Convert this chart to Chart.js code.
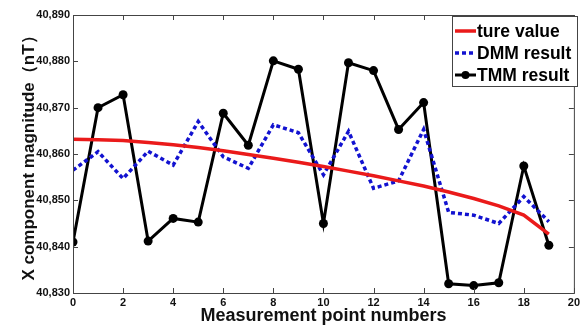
<!DOCTYPE html>
<html><head><meta charset="utf-8">
<script src="https://cdn.jsdelivr.net/npm/chart.js@4.4.0/dist/chart.umd.min.js"></script>
<style>html,body{margin:0;padding:0;background:#fff}#wrap{width:583px;height:329px}</style>
</head><body><div id="wrap"><canvas id="c" width="583" height="329"></canvas></div>
<script>
const xValues = [0,1,2,3,4,5,6,7,8,9,10,11,12,13,14,15,16,17,18,19];
const trueValues = [40863.2,40863.1,40862.9,40862.5,40862.0,40861.4,40860.7,40859.9,40859.1,40858.2,40857.3,40856.3,40855.3,40854.2,40853.1,40851.8,40850.4,40848.8,40846.8,40842.7];
const dmmValues = [40856.5,40860.5,40854.7,40860.6,40857.6,40867.0,40859.4,40856.9,40866.3,40864.6,40855.5,40864.9,40852.6,40854.2,40865.3,40847.4,40846.8,40845.0,40850.8,40845.4];
const tmmValues = [40841.0,40870.0,40872.8,40841.2,40846.1,40845.3,40868.8,40861.9,40880.1,40878.3,40845.0,40879.7,40878.0,40865.3,40871.1,40832.0,40831.6,40832.2,40857.4,40840.3];
const xTicks = [0,2,4,6,8,10,12,14,16,18,20];
const yTicks = [40830,40840,40850,40860,40870,40880,40890];
const seriesLabels = ['ture value','DMM result','TMM result'];
const xTitle = 'Measurement point numbers';
const yTitle = 'X component magnitude（nT）';

const FONT = '"Liberation Sans", Arial, sans-serif';
const toPts = arr => arr.map((v,i)=>({x:xValues[i], y:v}));

const boxTicks = {
  id:'boxTicks',
  afterDraw(chart){
    const {ctx, chartArea:a, scales:{x,y}} = chart;
    ctx.save();
    ctx.strokeStyle = '#444'; ctx.lineWidth = 1;
    ctx.strokeRect(a.left+0.5, a.top+0.5, a.right-a.left, a.bottom-a.top);
    ctx.beginPath();
    xTicks.forEach(v=>{const px=Math.round(x.getPixelForValue(v))+0.5;
      ctx.moveTo(px,a.bottom); ctx.lineTo(px,a.bottom-5);
      ctx.moveTo(px,a.top); ctx.lineTo(px,a.top+5);});
    yTicks.forEach(v=>{const py=Math.round(y.getPixelForValue(v))+0.5;
      ctx.moveTo(a.left,py); ctx.lineTo(a.left+5,py);
      ctx.moveTo(a.right,py); ctx.lineTo(a.right-5,py);});
    ctx.stroke();
    // legend
    const lx=452, ly=16, lw=125, lh=70;
    ctx.fillStyle='#fff'; ctx.fillRect(lx,ly,lw,lh);
    ctx.strokeStyle='#444'; ctx.strokeRect(lx+0.5,ly+0.5,lw,lh);
    ctx.font = 'bold 17.5px '+FONT; ctx.textBaseline='middle'; ctx.fillStyle='#000';
    chart.data.datasets.forEach((ds,i)=>{
      const cy = ly+15+i*22;
      ctx.save();
      ctx.strokeStyle=ds.borderColor; ctx.lineWidth=ds.borderWidth;
      ctx.setLineDash(ds.borderDash||[]);
      ctx.beginPath(); ctx.moveTo(455,cy); ctx.lineTo(476,cy); ctx.stroke();
      if(ds.pointRadius>0){ctx.setLineDash([]);ctx.fillStyle=ds.borderColor;ctx.beginPath();ctx.arc(465.5,cy,4,0,Math.PI*2);ctx.fill();}
      ctx.restore();
      ctx.fillText(ds.label, 477, cy+1);
    });
    ctx.restore();
  }
};

new Chart(document.getElementById('c'), {
  type:'line',
  data:{datasets:[
    {label:seriesLabels[0], data:toPts(trueValues), borderColor:'#ea1a1a', borderWidth:3.5, pointRadius:0, tension:0},
    {label:seriesLabels[1], data:toPts(dmmValues), borderColor:'#1212d0', borderWidth:3.5, borderDash:[4,3], pointRadius:0, tension:0},
    {label:seriesLabels[2], data:toPts(tmmValues), borderColor:'#000', backgroundColor:'#000', borderWidth:3, pointRadius:4.5, pointBackgroundColor:'#000', pointBorderWidth:0, tension:0}
  ]},
  options:{
    responsive:false, animation:false, devicePixelRatio:1,
    layout:{padding:{left:0,right:6,top:15,bottom:0}},
    plugins:{legend:{display:false}, tooltip:{enabled:false}},
    scales:{
      x:{type:'linear', min:0, max:20, afterBuildTicks:s=>{s.ticks=xTicks.map(v=>({value:v}));},
        grid:{display:false, drawTicks:false, tickLength:0}, border:{display:false},
        ticks:{color:'#111', padding:3, font:{family:FONT, size:11, weight:'bold'}, maxRotation:0},
        title:{display:true, text:xTitle, color:'#111', padding:{top:0,bottom:2}, font:{family:FONT, size:18, weight:'bold'}},
        afterFit:s=>{s.height=36;}},
      y:{type:'linear', min:40830, max:40890, afterBuildTicks:s=>{s.ticks=yTicks.map(v=>({value:v}));},
        grid:{display:false, drawTicks:false, tickLength:0}, border:{display:false},
        ticks:{color:'#111', padding:3, font:{family:FONT, size:11, weight:'bold'}, callback:v=>v.toLocaleString('en-US')},
        title:{display:true, text:yTitle, color:'#111', padding:{top:19,bottom:0}, font:{family:FONT, size:17, weight:'bold'}},
        afterFit:s=>{s.width=73;}}
    }
  },
  plugins:[boxTicks]
});
</script></body></html>
